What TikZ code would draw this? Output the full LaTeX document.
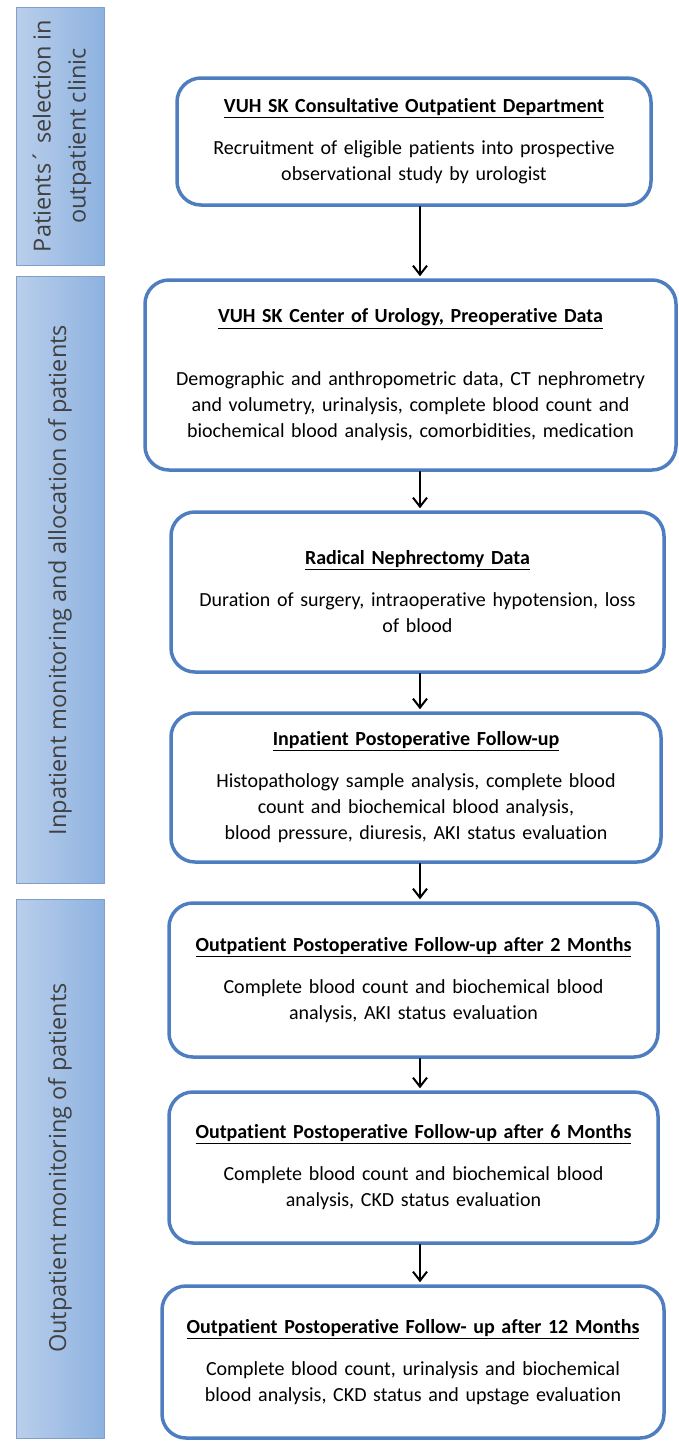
\documentclass[tikz,border=0pt]{standalone}
\usepackage{fontspec}
\setmainfont{Carlito}[Ligatures=NoCommon]
\newfontfamily\barfont{Open Sans}
\usetikzlibrary{arrows.meta}
\definecolor{boxblue}{RGB}{79,126,192}
\definecolor{barlight}{RGB}{186,207,235}
\definecolor{bardark}{RGB}{141,178,224}
\definecolor{barline}{RGB}{128,160,204}
\definecolor{bartext}{RGB}{64,64,64}
\tikzset{
	stage/.style={draw=boxblue, line width=3.5pt, rounded corners=24pt, fill=white,
		align=center, inner sep=0pt, font=\fontsize{20}{26}\selectfont},
	phase/.style={draw=barline, line width=0.8pt, left color=barlight, right color=bardark},
	phasetext/.style={text=bartext, align=center, font=\barfont\fontsize{23.5}{35}\selectfont},
	flow/.style={->, line width=2pt, shorten >=2pt}
}
\begin{document}
\begin{tikzpicture}[x=1pt, y=-1pt, line join=round, line cap=round,
	>={Straight Barb[length=9pt,width=14pt]}]
	\useasboundingbox (0,0) rectangle (678,1441);
	% side bars
	\draw[phase] (16,7) rectangle (104,265);
	\draw[phase] (16,276) rectangle (104,883);
	\draw[phase] (16,899) rectangle (104,1438);
	\node[phasetext, rotate=90] (s1) at (62,136) {Patients\textasciiacute\ selection in\\outpatient clinic};
	\node[phasetext, rotate=90] (s2) at (60,580) {Inpatient monitoring and allocation of patients};
	\node[phasetext, rotate=90] (s3) at (60,1168) {Outpatient monitoring of patients};
	% boxes
	\node[stage, minimum width=474, minimum height=127, text width=460] (b1) at (414,141.5)
		{\underline{\textbf{VUH SK Consultative Outpatient Department}}\\[16pt]
		Recruitment of eligible patients into prospective\\observational study by urologist};
	\node[stage, minimum width=531, minimum height=190, text width=520] (b2) at (410.5,375)
		{\underline{\textbf{VUH SK Center of Urology, Preoperative Data}}\\[37pt]
		Demographic and anthropometric data, CT nephrometry\\and volumetry, urinalysis, complete blood count and\\biochemical blood analysis, comorbidities, medication};
	\node[stage, minimum width=493, minimum height=160, text width=480] (b3) at (417.5,592)
		{\underline{\textbf{Radical Nephrectomy Data}}\\[16pt]
		Duration of surgery, intraoperative hypotension, loss\\of blood};
	\node[stage, minimum width=490, minimum height=149, text width=476] (b4) at (416,787.5)
		{\underline{\textbf{Inpatient Postoperative Follow-up}}\\[16pt]
		Histopathology sample analysis, complete blood\\count and biochemical blood analysis,\\blood pressure, diuresis, AKI status evaluation};
	\node[stage, minimum width=489, minimum height=154, text width=478] (b5) at (413.5,980)
		{\underline{\textbf{Outpatient Postoperative Follow-up after 2 Months}}\\[16pt]
		Complete blood count and biochemical blood\\analysis, AKI status evaluation};
	\node[stage, minimum width=489, minimum height=151, text width=478] (b6) at (413.5,1167.5)
		{\underline{\textbf{Outpatient Postoperative Follow-up after 6 Months}}\\[16pt]
		Complete blood count and biochemical blood\\analysis, CKD status evaluation};
	\node[stage, minimum width=502, minimum height=152, text width=490] (b7) at (413,1362)
		{\underline{\textbf{Outpatient Postoperative Follow- up after 12 Months}}\\[16pt]
		Complete blood count, urinalysis and biochemical\\blood analysis, CKD status and upstage evaluation};
	% arrows
	\coordinate (ax) at (420,0);
	\foreach \u/\v in {b1/b2,b2/b3,b3/b4,b4/b5,b5/b6,b6/b7}
		\draw[flow] (\u.south -| ax) -- (\v.north -| ax);
\end{tikzpicture}
\end{document}
